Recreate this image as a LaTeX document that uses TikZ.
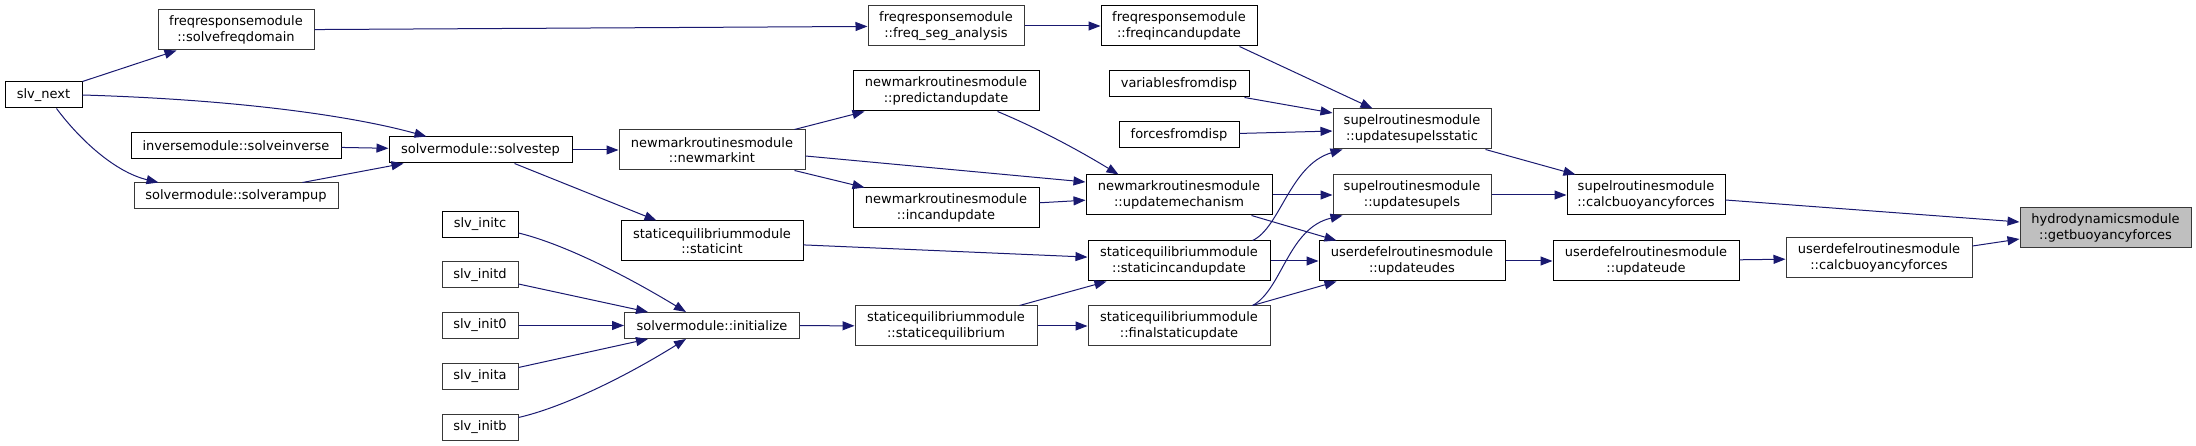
\documentclass[tikz,border=0pt]{standalone}
\usepackage{fontspec}
\setmainfont{DejaVu Sans}
\usepackage{xcolor}
\usetikzlibrary{arrows.meta}
\definecolor{callblue}{HTML}{191970}
\definecolor{rootgray}{HTML}{BFBFBF}

\begin{document}
\begin{tikzpicture}[x=1pt,y=-1pt,
  fn/.style={draw=black,line width=1pt,fill=white,inner sep=0pt,minimum height=40pt,align=center,font=\fontsize{13pt}{15.5pt}\selectfont},
  fnl/.style={fn,draw=black!78},
  one/.style={minimum height=26pt},
  call/.style={draw=callblue,line width=1pt,-{Triangle[length=12pt,width=9pt]}}]
\useasboundingbox (0,0) rectangle (2196,446);
\node[fn,one,minimum width=77pt] (slvnext) at (43.5,95) {slv\_next};
\node[fnl,minimum width=156pt] (solvefreq) at (236,30) {freqresponsemodule\\::solvefreqdomain};
\node[fn,one,minimum width=210pt] (solveinv) at (236,145.5) {inversemodule::solveinverse};
\node[fnl,one,minimum width=204pt] (rampup) at (236,196) {solvermodule::solverampup};
\node[fn,one,minimum width=183pt] (solvestep) at (480.5,150) {solvermodule::solvestep};
\node[fn,one,minimum width=76pt] (initc) at (480,224.5) {slv\_initc};
\node[fnl,one,minimum width=76pt] (initd) at (480,275) {slv\_initd};
\node[fnl,one,minimum width=76pt] (initzero) at (480,325.5) {slv\_init0};
\node[fnl,one,minimum width=76pt] (inita) at (480,376.5) {slv\_inita};
\node[fnl,one,minimum width=76pt] (initb) at (480,427.5) {slv\_initb};
\node[fnl,minimum width=156pt] (freqseg) at (946,26) {freqresponsemodule\\::freq\_seg\_analysis};
\node[fnl,minimum width=186pt] (newmarkint) at (712,150) {newmarkroutinesmodule\\::newmarkint};
\node[fn,minimum width=182pt] (staticint) at (712,241) {staticequilibriummodule\\::staticint};
\node[fnl,one,minimum width=175pt] (initialize) at (712,325.5) {solvermodule::initialize};
\node[fn,minimum width=186pt] (predict) at (946,91) {newmarkroutinesmodule\\::predictandupdate};
\node[fn,minimum width=186pt] (incand) at (946,208) {newmarkroutinesmodule\\::incandupdate};
\node[fnl,minimum width=182pt] (staticeq) at (946,326) {staticequilibriummodule\\::staticequilibrium};
\node[fn,minimum width=156pt] (freqinc) at (1179,26) {freqresponsemodule\\::freqincandupdate};
\node[fn,one,minimum width=140pt] (varsdisp) at (1179,84) {variablesfromdisp};
\node[fn,one,minimum width=120pt] (forcesdisp) at (1179,135) {forcesfromdisp};
\node[fn,minimum width=186pt] (updmech) at (1179,195) {newmarkroutinesmodule\\::updatemechanism};
\node[fn,minimum width=182pt] (staticinc) at (1179,261) {staticequilibriummodule\\::staticincandupdate};
\node[fnl,minimum width=182pt] (finalstatic) at (1179,326) {staticequilibriummodule\\::finalstaticupdate};
\node[fnl,minimum width=158pt] (supelsstatic) at (1412,129) {supelroutinesmodule\\::updatesupelsstatic};
\node[fnl,minimum width=158pt] (supels) at (1412,195) {supelroutinesmodule\\::updatesupels};
\node[fn,minimum width=186pt] (udes) at (1412,261) {userdefelroutinesmodule\\::updateudes};
\node[fn,minimum width=158pt] (supelcalc) at (1646,195) {supelroutinesmodule\\::calcbuoyancyforces};
\node[fn,minimum width=186pt] (ude) at (1646,261) {userdefelroutinesmodule\\::updateude};
\node[fnl,minimum width=186pt] (udecalc) at (1879,258) {userdefelroutinesmodule\\::calcbuoyancyforces};
\node[fnl,fill=rootgray,minimum width=171pt] (getbuoy) at (2105.5,228) {hydrodynamicsmodule\\::getbuoyancyforces};

\draw[call] (slvnext.north east) -- ([xshift=19pt]solvefreq.south west);
\draw[call] (slvnext.east) .. controls (250,100) and (360,118) .. ([xshift=38pt]solvestep.north west);
\draw[call] ([xshift=13pt]slvnext.south) .. controls (80,140) and (115,172) .. ([xshift=25pt]rampup.north west);
\draw[call] (solveinv) -- (solvestep);
\draw[call] ([xshift=-36pt]rampup.north east) -- ([xshift=15pt]solvestep.south west);
\draw[call] (solvefreq) -- (freqseg);
\draw[call] (freqseg) -- (freqinc);
\draw[call] (solvestep) -- (newmarkint);
\draw[call] ([xshift=-58pt]solvestep.south east) -- ([xshift=36pt]staticint.north west);
\draw[call] ([xshift=-11pt]newmarkint.north east) -- ([xshift=12pt]predict.south west);
\draw[call] ([yshift=-6pt]newmarkint.east) -- ([yshift=13pt]updmech.west);
\draw[call] ([xshift=-11pt]newmarkint.south east) -- ([xshift=12pt]incand.north west);
\draw[call] ([xshift=-42pt]predict.south east) .. controls (1030,125) and (1070,145) .. ([xshift=33pt]updmech.north west);
\draw[call] (incand) -- (updmech);
\draw[call] ([yshift=-8.5pt]initc.east) .. controls (560,243) and (620,272) .. ([xshift=-26pt]initialize.north);
\draw[call] ([yshift=-9pt]initd.east) -- ([xshift=24pt]initialize.north west);
\draw[call] (initzero) -- (initialize);
\draw[call] ([yshift=9pt]inita.east) -- ([xshift=24pt]initialize.south west);
\draw[call] ([yshift=10pt]initb.east) .. controls (560,408) and (620,380) .. ([xshift=-26pt]initialize.south);
\draw[call] (initialize) -- (staticeq);
\draw[call] (staticint) -- (staticinc);
\draw[call] ([xshift=-18pt]staticeq.north east) -- ([xshift=19pt]staticinc.south west);
\draw[call] (staticeq) -- (finalstatic);
\draw[call] ([xshift=-18pt]freqinc.south east) -- ([xshift=40pt]supelsstatic.north west);
\draw[call] ([xshift=-5pt]varsdisp.south east) -- ([yshift=16pt]supelsstatic.west);
\draw[call] (forcesdisp) -- (supelsstatic);
\draw[call] (updmech) -- (supels);
\draw[call] ([xshift=-21pt]updmech.south east) -- ([xshift=18pt]udes.north west);
\draw[call] ([xshift=-18pt]staticinc.north east) .. controls (1280,228) and (1290,165) .. ([xshift=10pt]supelsstatic.south west);
\draw[call] (staticinc) -- (udes);
\draw[call] ([xshift=-18pt]finalstatic.north east) .. controls (1282,290) and (1288,228) .. ([xshift=10pt]supels.south west);
\draw[call] ([xshift=-18pt]finalstatic.north east) -- ([xshift=18pt]udes.south west);
\draw[call] ([xshift=-6pt]supelsstatic.south east) -- ([xshift=9pt]supelcalc.north west);
\draw[call] (supels) -- (supelcalc);
\draw[call] (udes) -- (ude);
\draw[call] (ude) -- (udecalc);
\draw[call] ([yshift=-5pt]supelcalc.east) -- ([yshift=6pt]getbuoy.west);
\draw[call] ([yshift=12pt]udecalc.east) -- ([yshift=-11pt]getbuoy.west);
\end{tikzpicture}
\end{document}
